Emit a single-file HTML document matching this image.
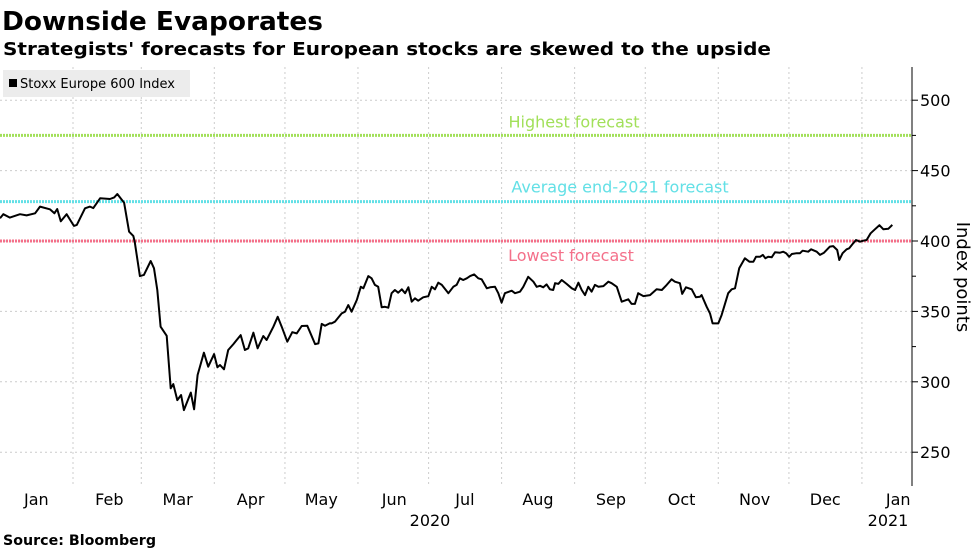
<!DOCTYPE html>
<html><head><meta charset="utf-8"><style>
body{margin:0;background:#fff;width:977px;height:549px;overflow:hidden;font-family:"DejaVu Sans",sans-serif}
</style></head><body>
<svg width="977" height="549" font-family="DejaVu Sans, sans-serif">
<text x="2" y="30" font-size="26" font-weight="bold" fill="#000" textLength="321" lengthAdjust="spacingAndGlyphs">Downside Evaporates</text>
<text x="3" y="55" font-size="18" font-weight="bold" fill="#000" textLength="768" lengthAdjust="spacingAndGlyphs">Strategists' forecasts for European stocks are skewed to the upside</text>
<g id="grid"></g>
<g id="fc"></g>
<path id="line" fill="none" stroke="#000" stroke-width="2" stroke-linejoin="round"/>
<line x1="912" y1="67" x2="912" y2="486" stroke="#000" stroke-width="1"/>
<g id="yax"></g>
<g id="xax"></g>
<text transform="translate(957,277) rotate(90)" text-anchor="middle" font-size="18" fill="#000">Index points</text>
<g>
<rect x="3" y="70" width="187" height="27" fill="#ececec"/>
<rect x="9" y="79" width="8" height="8" fill="#000"/>
<text x="20" y="88" font-size="13" fill="#000">Stoxx Europe 600 Index</text>
</g>
<text x="430" y="526" text-anchor="middle" font-size="16" fill="#000">2020</text>
<text x="888" y="526" text-anchor="middle" font-size="16" fill="#000">2021</text>
<text x="3" y="545" font-size="14" font-weight="bold" fill="#000" textLength="153" lengthAdjust="spacingAndGlyphs">Source: Bloomberg</text>
</svg>
<script>
const days=[0,1.4,4.2,8.5,11.3,14.9,17,21.2,23.1,24.3,25.8,28.3,31.4,32.6,36.1,38.2,39.6,42.5,46.7,48.5,49.8,52.7,54.8,56.6,57.2,59.4,61.1,64,65.4,66.8,68.2,70.8,72.5,73.6,75.3,76.9,78.1,79.5,81,82.4,83.9,86.6,88.4,90.9,92.3,93.4,95.1,96.9,99.1,100.5,102.2,104,105.4,107.6,109.4,111.8,113.2,116.1,117.9,119.6,122,124.1,126,128.1,130.5,133.8,135.2,136.6,138,140.1,140.8,142.2,145.1,146.5,147.9,149.3,151.5,153.2,154.3,156.4,157.8,159.2,160.6,162.1,163.5,164.9,166.3,167.7,169.1,170.6,172,173.4,174.8,176.2,177.6,179.7,181.9,183.3,184.7,186.1,187.6,190.4,192.5,193.9,195.3,196.7,198.2,199.6,201.3,203.1,204.5,206.7,208.1,210.2,211.6,213,214.4,217.3,218.7,220.8,222.2,224.3,226.5,227.9,229.3,230.7,232.1,233.5,234.9,235.7,237.1,238.5,240.6,242.8,244.2,245.6,247,248.4,249.8,251.2,252.6,254.1,256.2,258.3,259.7,261.9,264,266.8,268.2,269.6,271,273.2,276,278.8,281,283.1,285.2,286.6,288.7,289.7,291.3,293.7,295.5,297.2,297.9,300.1,301.5,302.6,305,306.4,309.2,310.7,312.1,313.9,316.3,318.2,319.9,321,322.7,323.9,325,326.2,327.7,329.1,331.2,332.6,333.8,335.1,336.2,338.3,339.7,340.8,343.2,344.4,346.8,348.2,349.9,352.4,353.8,355.5,356.4,357.8,359.5,360.6,362.3,363.5,365.2,366.6,368,369.7,371.5,373.4,375.1,377.2,378.9];
const values=[416.1,419,416.6,419,418.2,419.7,424.4,422.5,419.7,422.7,414,419,410.7,411.4,423.2,424.4,423.4,430.3,429.8,431,433.4,427.2,406.6,403.6,399.5,375.1,375.9,385.8,380.6,365.2,339.1,332.7,295.4,298.4,287,290.6,279.9,285.9,292.3,280.5,304.8,320.7,310.7,319.7,310.3,311.9,308.9,322.6,326.8,329.7,333.2,322.6,323.8,334.9,323.8,332.5,329.7,339.1,346.2,339.1,328.5,335.2,334.4,339.6,339.8,326.8,327.3,341.1,339.8,341.6,341.5,342.7,348.6,349.8,354.5,349.8,358.1,367.5,366.4,375.1,373.5,368.8,367.5,352.9,353.3,352.6,362.9,365.2,363.3,365.7,362.9,367.1,356.9,359.3,357.6,360,360.9,367.5,365.7,370.4,368.8,362.9,367.5,368.8,373.5,372.3,373.5,375.1,376.3,373.5,372.8,366.4,367.1,367.5,362.9,356.2,362.9,364.7,362.9,364,367.5,374.6,371.1,367.5,368.2,367.1,369.2,365.7,365.2,370,369.5,372.3,369.5,366.4,365.2,370.4,365.2,361.6,367.5,364,368.8,367.5,368,371.1,370,367.5,356.9,358.6,355.3,355.3,362.9,360.9,361.6,365.7,365.2,368.8,372.8,371.1,370,362.4,367.1,365.7,360,360.4,361.6,353.3,348.6,341.5,341.5,347.4,362.9,365.7,366.4,380.6,387.7,385.3,385.3,388.8,388.8,390.1,387.7,388.8,388.4,392,391.7,392.4,391.3,388.8,390.8,391.3,391.3,393.1,392.4,394.1,392.4,390.1,391.7,396,396.4,393.6,386.5,391.3,394.1,394.8,398.4,400.7,399.5,400.2,400.7,405.5,408.3,411.2,408.3,408.7,411.4];
const yTicks=[250,300,350,400,450,500];
const months=["Jan","Feb","Mar","Apr","May","Jun","Jul","Aug","Sep","Oct","Nov","Dec","Jan"];
const monthStarts=[0,31,60,91,121,152,182,213,244,274,305,335,366];
const forecastNames=["Highest forecast","Average end-2021 forecast","Lowest forecast"];
const forecastValues=[475,428,400];
const forecastColors=["#a2e05a","#63e0e6","#f4708a"];
const X=d=>d*2.355;
const Y=v=>241-(v-400)*1.408;
const NS="http://www.w3.org/2000/svg";
function mk(tag,attrs,parent,text){const e=document.createElementNS(NS,tag);for(const k in attrs)e.setAttribute(k,attrs[k]);if(text!==undefined)e.textContent=text;parent.appendChild(e);return e;}
const grid=document.getElementById('grid'),yax=document.getElementById('yax'),xax=document.getElementById('xax'),fc=document.getElementById('fc');
yTicks.forEach(t=>{
 const g=mk('line',{x1:0,x2:912,y1:Y(t),y2:Y(t),stroke:'#ccc','stroke-dasharray':'2,3'},grid);
 
 
 const tk=mk('line',{x1:912,x2:918,y1:Y(t),y2:Y(t),stroke:'#000'},yax);
 
 
 const l=mk('text',{x:920,y:Y(t)+6,'font-size':16,fill:'#000'},yax,t);
 
 
});
[325,375,425,475].forEach(t=>{
 const tk=mk('line',{x1:912,x2:916,y1:Y(t),y2:Y(t),stroke:'#000'},yax);
 
 
});
monthStarts.forEach((d,i)=>{
 if(i>0){const g=mk('line',{x1:X(d),x2:X(d),y1:67,y2:486,stroke:'#ccc','stroke-dasharray':'2,3'},grid);
 
 }
 const l=mk('text',{x:X(d+15)+1,y:505,'text-anchor':'middle','font-size':16,fill:'#000'},xax,months[i]);
 
 
});
const labelX=[574,620,571];
const labelY=[-8,-9,20];
forecastValues.forEach((v,i)=>{
 const ln=mk('line',{x1:0,x2:912,y1:Y(v),y2:Y(v),stroke:forecastColors[i],'stroke-width':3,'stroke-dasharray':'2,1'},fc);
 
 
 const t=mk('text',{x:labelX[i],y:Y(v)+labelY[i],'text-anchor':'middle','font-size':16,fill:forecastColors[i]},fc,forecastNames[i]);
 
 
});
let d='';days.forEach((dd,i)=>{d+=(i?'L':'M')+X(dd).toFixed(1)+','+Y(values[i]).toFixed(1);});
document.getElementById('line').setAttribute('d',d);
</script>
</body></html>
